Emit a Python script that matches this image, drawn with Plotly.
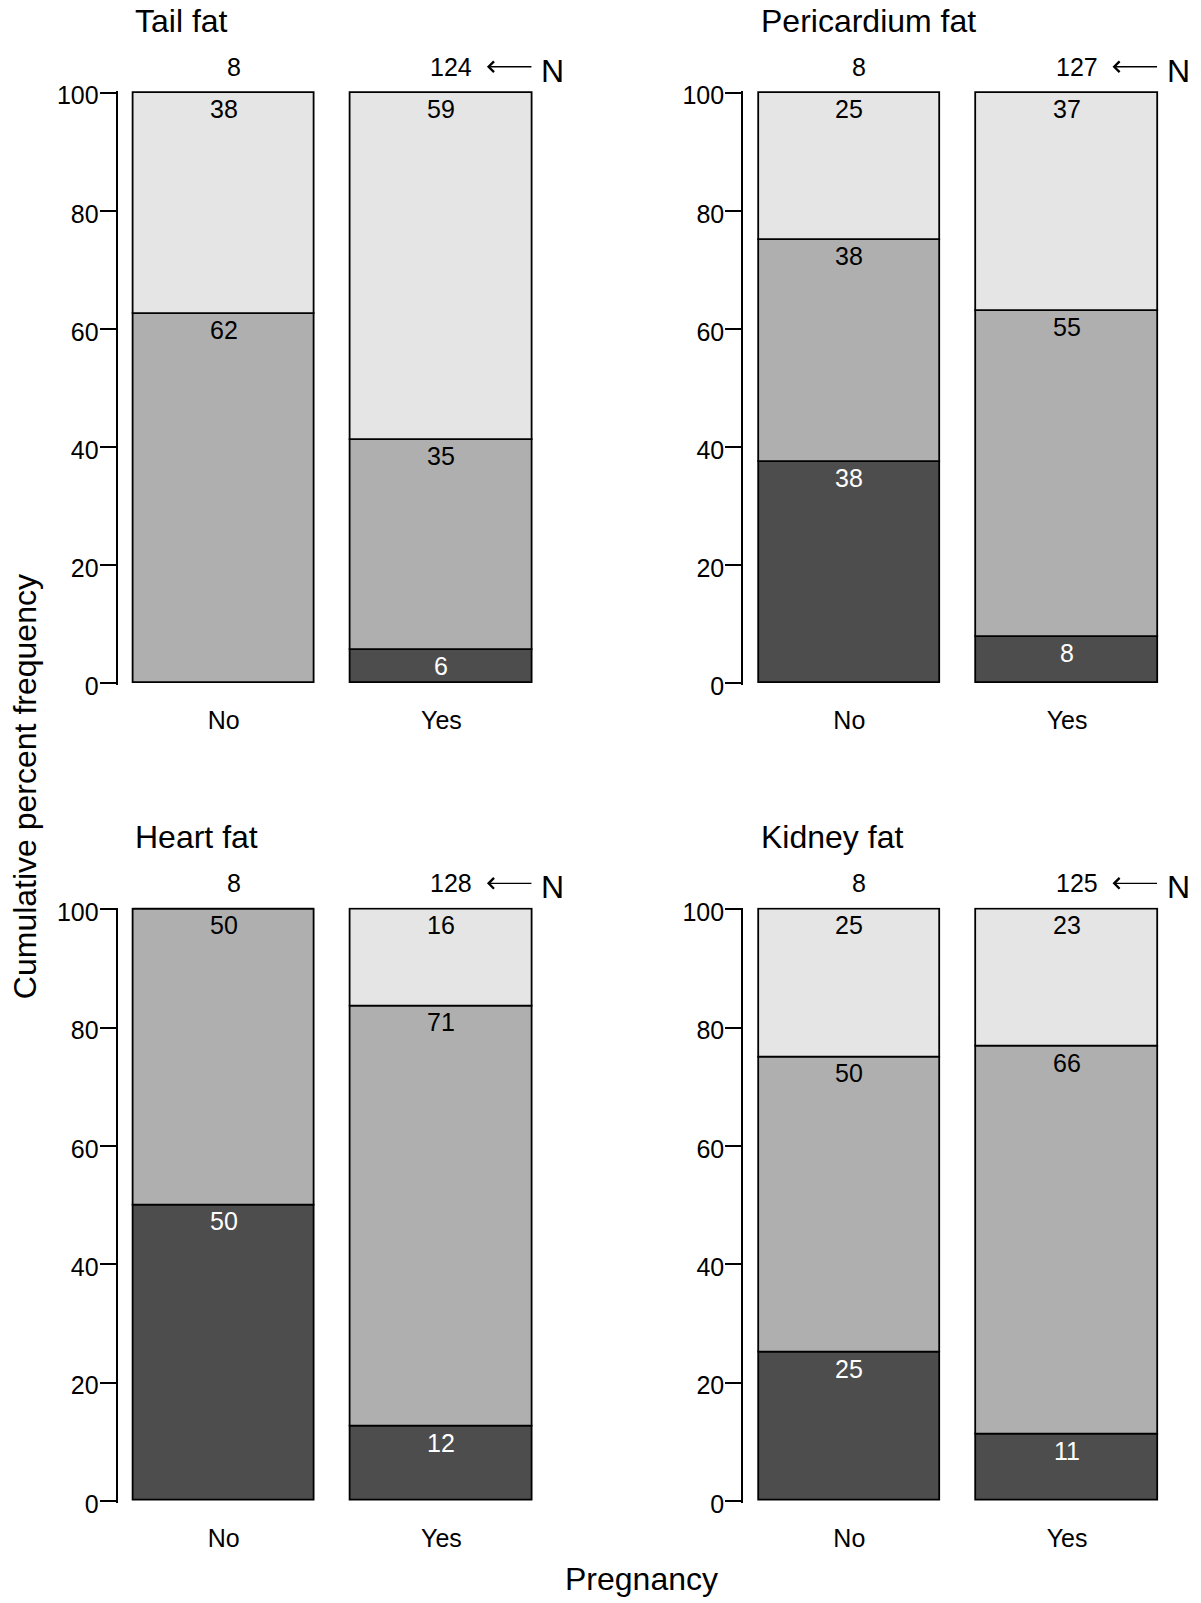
import plotly.graph_objects as go

# Pregnancy status groups and fat-depot panels
groups = ["No", "Yes"]
panels = ["Tail fat", "Pericardium fat", "Heart fat", "Kidney fat"]

# Animal counts per fat-score class, [No, Yes] for each panel
low_counts = {
    "Tail fat": [0, 7],
    "Pericardium fat": [3, 10],
    "Heart fat": [4, 16],
    "Kidney fat": [2, 14],
}
mid_counts = {
    "Tail fat": [5, 44],
    "Pericardium fat": [3, 70],
    "Heart fat": [4, 91],
    "Kidney fat": [4, 82],
}
high_counts = {
    "Tail fat": [3, 73],
    "Pericardium fat": [2, 47],
    "Heart fat": [0, 21],
    "Kidney fat": [2, 29],
}

y_ticks = [0, 20, 40, 60, 80, 100]

FONT = "Liberation Sans, Arial, sans-serif"
W, H = 1201, 1603
classes = [
    ("low", low_counts, "#4d4d4d", "white"),
    ("mid", mid_counts, "#afafaf", "black"),
    ("high", high_counts, "#e5e5e5", "black"),
]

# panel placement in pixels: (axis-line x, top y of 100, bottom y of 0)
xr = [-0.488, 1.49]
px_per_unit = 217.7
rng_pad = 0.3
layout_px = {
    "Tail fat": (117.5, 85.0, 684.5),
    "Pericardium fat": (743.1, 85.0, 684.5),
    "Heart fat": (117.5, 914.0, 1514.5),
    "Kidney fat": (743.1, 914.0, 1514.5),
}

fig = go.Figure()
annotations = []
layout_axes = {}

for i, panel in enumerate(panels):
    k = "" if i == 0 else str(i + 1)
    xa, ya = "x" + k, "y" + k
    x0px, ytop, ybot = layout_px[panel]
    x1px = x0px + (xr[1] - xr[0]) * px_per_unit
    ppu = (ybot - ytop) / 100.0
    d_top = ytop - rng_pad * ppu
    d_bot = ybot + rng_pad * ppu

    totals = [sum(c[panel][j] for _, c, _, _ in classes) for j in range(2)]
    cum = [0.0, 0.0]
    for name, counts, color, tcolor in classes:
        pct = [100.0 * counts[panel][j] / totals[j] for j in range(2)]
        fig.add_trace(go.Bar(
            x=[0, 1], y=pct, base=cum[:], width=0.832,
            marker=dict(color=color, line=dict(color="black", width=1.8)),
            xaxis=xa, yaxis=ya, showlegend=False, hoverinfo="skip",
        ))
        for j in range(2):
            top = cum[j] + pct[j]
            if counts[panel][j] > 0:
                annotations.append(dict(
                    x=j, y=top, xref=xa, yref=ya, text=str(round(pct[j])),
                    showarrow=False, yanchor="middle", yshift=-16,
                    font=dict(family=FONT, size=25, color=tcolor),
                ))
            cum[j] = top

    # sample sizes above each bar
    for j in range(2):
        annotations.append(dict(
            x=j, y=100, xref=xa, yref=ya, text=str(totals[j]),
            showarrow=False, yanchor="middle", yshift=26, xshift=10,
            font=dict(family=FONT, size=25, color="black"),
        ))
    # arrow pointing to the N values
    annotations.append(dict(
        x=1, y=100, xref=xa, yref=ya, text="", showarrow=True,
        xshift=45.5, yshift=26, ax=46, ay=0,
        arrowhead=4, arrowsize=1.6, arrowwidth=1.3, arrowcolor="black",
    ))
    annotations.append(dict(
        x=1, y=100, xref=xa, yref=ya, text="N", showarrow=False,
        xanchor="center", xshift=111, yshift=22,
        font=dict(family=FONT, size=32, color="black"),
    ))
    # panel title
    annotations.append(dict(
        x=-0.416, y=100, xref=xa, yref=ya, text=panel, showarrow=False,
        xanchor="left", yanchor="middle", yshift=72,
        font=dict(family=FONT, size=32, color="black"),
    ))

    layout_axes["xaxis" + k] = dict(
        domain=[x0px / W, x1px / W], range=xr, anchor=ya,
        tickvals=[0, 1], ticktext=groups, showline=False, showgrid=False,
        zeroline=False, ticks="", ticklabelstandoff=18,
        tickfont=dict(family=FONT, size=25, color="black"),
    )
    layout_axes["yaxis" + k] = dict(
        domain=[1 - d_bot / H, 1 - d_top / H], range=[-rng_pad, 100 + rng_pad],
        anchor=xa, tickvals=y_ticks, showline=True, linecolor="black",
        linewidth=1.8, ticks="outside", ticklen=16, tickwidth=1.8,
        tickcolor="black", showgrid=False, zeroline=False,
        ticklabelstandoff=-4, ticklabelshift=3,
        tickfont=dict(family=FONT, size=25, color="black"),
    )

annotations.append(dict(
    x=25 / W, y=1 - 790 / H, xref="paper", yref="paper",
    text="Cumulative percent frequency", textangle=-90, showarrow=False,
    xanchor="center", yanchor="middle",
    font=dict(family=FONT, size=32, color="black"),
))
annotations.append(dict(
    x=641 / W, y=1 - 1594 / H, xref="paper", yref="paper",
    text="Pregnancy", showarrow=False, xanchor="center", yanchor="middle",
    font=dict(family=FONT, size=32, color="black"),
))

fig.update_layout(
    width=W, height=H, margin=dict(l=0, r=0, t=0, b=0),
    paper_bgcolor="white", plot_bgcolor="white",
    barmode="overlay", bargap=0, annotations=annotations,
    font=dict(family=FONT, color="black"),
    **layout_axes,
)

fig.write_html("out.html")
